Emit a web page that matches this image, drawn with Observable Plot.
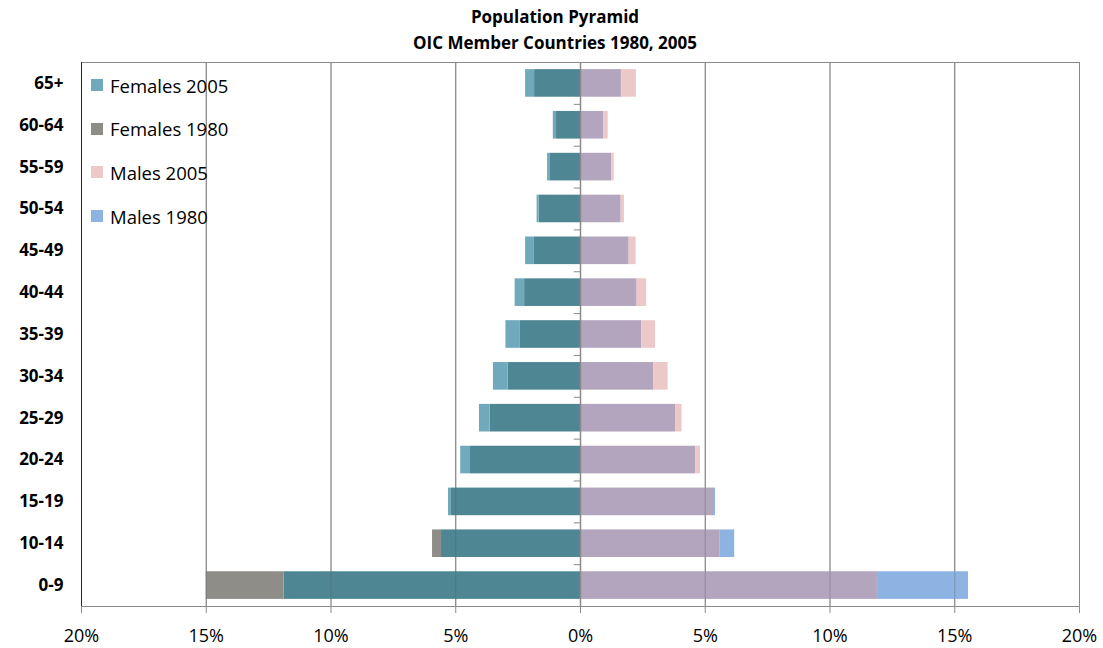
<!DOCTYPE html>
<html>
<head>
<meta charset="utf-8">
<script src="https://cdn.jsdelivr.net/npm/d3@7"></script>
<script src="https://cdn.jsdelivr.net/npm/@observablehq/plot@0.6"></script>
<style>
  body { margin: 0; background: #fff; font-family: "Open Sans", sans-serif; }
  #wrap { position: relative; width: 1103px; height: 648px; }
  #title { width: 1103px; height: 57px; padding-top: 4px; padding-left: 7px; box-sizing: border-box; text-align: center;
           font-weight: bold; font-size: 17px; line-height: 26px; color: #000; overflow: hidden; }
  #legend { position: absolute; left: 91px; top: 74px; font-size: 18.5px; color: #000; }
  .row { display: flex; align-items: center; height: 22px; margin-bottom: 21.7px; }
  .sw { width: 12px; height: 12px; margin-right: 7px; }
</style>
</head>
<body>
<div id="wrap">
  <div id="title">Population Pyramid<br>OIC Member Countries 1980, 2005</div>
  <div id="chart"></div>
  <div id="legend"></div>
</div>
<script>
const ageGroups = ["65+", "60-64", "55-59", "50-54", "45-49", "40-44", "35-39", "30-34", "25-29", "20-24", "15-19", "10-14", "0-9"];
const females2005 = [2.20, 1.09, 1.32, 1.74, 2.20, 2.62, 2.99, 3.49, 4.05, 4.80, 5.29, 5.57, 11.88];
const females1980 = [1.84, 0.96, 1.23, 1.66, 1.87, 2.24, 2.43, 2.90, 3.62, 4.41, 5.20, 5.93, 15.00];
const males2005   = [2.24, 1.11, 1.35, 1.76, 2.23, 2.65, 3.01, 3.51, 4.07, 4.81, 5.33, 5.60, 11.90];
const males1980   = [1.64, 0.93, 1.25, 1.63, 1.95, 2.27, 2.46, 2.93, 3.81, 4.62, 5.41, 6.18, 15.55];
const xTicks = [-20, -15, -10, -5, 0, 5, 10, 15, 20];

const legendItems = ["Females 2005", "Females 1980", "Males 2005", "Males 1980"];
const legendColors = ["#70a9bb", "#8e8c86", "#ecc8c8", "#8db3e2"];

const col = {
  fOverlap: "#4e8793", f2005: "#70a9bb", f1980: "#8f8d87",
  mOverlap: "#b3a5bd", m2005: "#ecc8c8", m1980: "#8db3e2"
};

const segs = [];
ageGroups.forEach((g, i) => {
  const f05 = females2005[i], f80 = females1980[i];
  const m05 = males2005[i], m80 = males1980[i];
  const fMin = Math.min(f05, f80), fMax = Math.max(f05, f80);
  segs.push({age: g, x1: 0, x2: -fMin, fill: col.fOverlap});
  segs.push({age: g, x1: -fMin, x2: -fMax, fill: f05 >= f80 ? col.f2005 : col.f1980});
  const mMin = Math.min(m05, m80), mMax = Math.max(m05, m80);
  segs.push({age: g, x1: 0, x2: mMin, fill: col.mOverlap});
  segs.push({age: g, x1: mMin, x2: mMax, fill: m05 >= m80 ? col.m2005 : col.m1980});
});

const grid = "#8a8a8a";
const chart = Plot.plot({
  width: 1103,
  height: 591,
  marginTop: 5,
  marginBottom: 42,
  marginLeft: 81,
  marginRight: 24,
  style: { fontFamily: "Open Sans, sans-serif", color: "#000", background: "#fff" },
  x: { domain: [-20, 20], ticks: xTicks, tickFormat: d => Math.abs(d) + "%", label: null },
  y: { domain: ageGroups, paddingInner: 0.34, paddingOuter: 0.17, round: false, label: null },
  marks: [
    Plot.ruleX(xTicks, { stroke: grid, strokeWidth: 1 }),
    Plot.barX(segs, { x1: "x1", x2: "x2", y: "age", fill: "fill", inset: 0 }),
    Plot.ruleX(xTicks, { stroke: "#555", strokeWidth: 1, strokeOpacity: 0.35 }),
    Plot.ruleY(ageGroups.slice(1), { y: d => d, x1: -0.25, x2: 0, dy: -20.9, stroke: grid }),
    Plot.ruleX([0], { stroke: grid, strokeWidth: 1.5 }),
    Plot.frame({ stroke: grid }),
    Plot.ruleX([-20], { stroke: "#222", strokeWidth: 1 }),
    Plot.axisX({ ticks: xTicks, tickFormat: d => Math.abs(d) + "%", tickSize: 7, tickPadding: 16, stroke: grid, fontSize: 18, label: null }),
    Plot.axisY({ tickSize: 0, tickPadding: 18, fontSize: 17, fontWeight: "bold", label: null })
  ]
});
document.getElementById("chart").appendChild(chart);

const leg = document.getElementById("legend");
legendItems.forEach((name, i) => {
  const row = document.createElement("div");
  row.className = "row";
  const sw = document.createElement("div");
  sw.className = "sw";
  sw.style.background = legendColors[i];
  const t = document.createElement("span");
  t.textContent = name;
  row.appendChild(sw); row.appendChild(t);
  leg.appendChild(row);
});
</script>
</body>
</html>
